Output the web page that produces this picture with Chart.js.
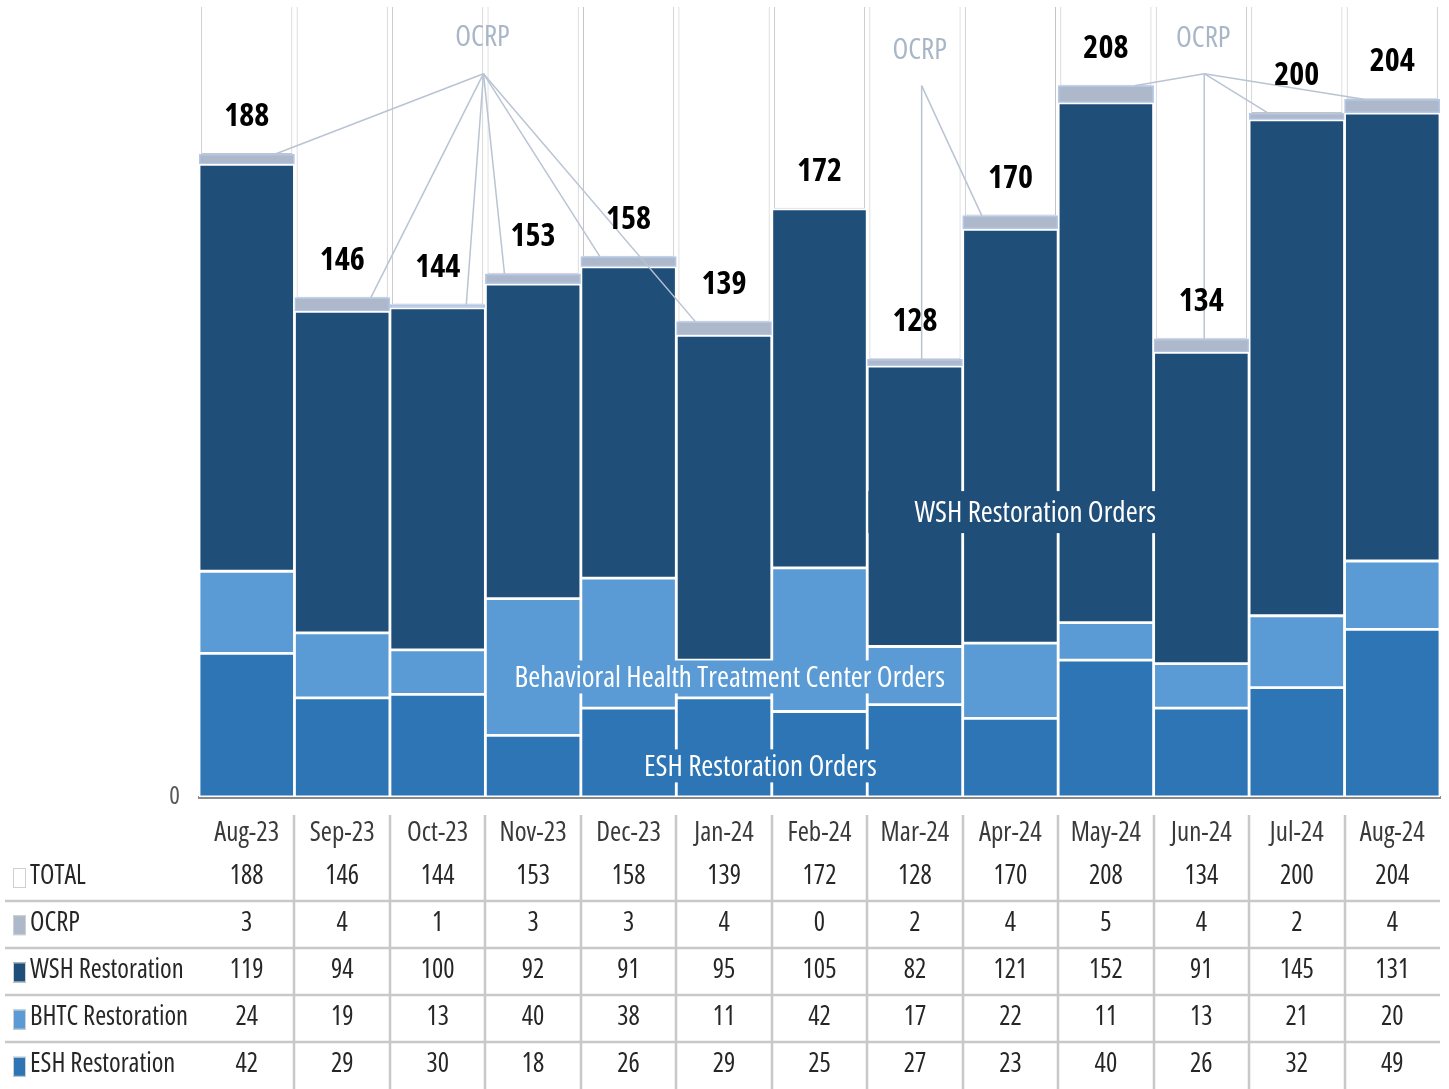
<!DOCTYPE html>
<html><head><meta charset="utf-8">
<script src="https://cdn.jsdelivr.net/npm/chart.js@4.4.1/dist/chart.umd.min.js"></script>
<style>html,body{margin:0;padding:0;background:#fff;}canvas{display:block;}</style>
</head><body>
<canvas id="c" width="1449" height="1089"></canvas>
<script>
// ---------- data ----------
const categories = ['Aug-23','Sep-23','Oct-23','Nov-23','Dec-23','Jan-24','Feb-24','Mar-24','Apr-24','May-24','Jun-24','Jul-24','Aug-24'];
const totalValues = [188,146,144,153,158,139,172,128,170,208,134,200,204];
const ocrpValues  = [3,4,1,3,3,4,0,2,4,5,4,2,4];
const wshValues   = [119,94,100,92,91,95,105,82,121,152,91,145,131];
const bhtcValues  = [24,19,13,40,38,11,42,17,22,11,13,21,20];
const eshValues   = [42,29,30,18,26,29,25,27,23,40,26,32,49];
const yTicks = [0];
const rowLabels = ['TOTAL','OCRP','WSH Restoration','BHTC Restoration','ESH Restoration'];
const ocrpGroups = [[0,1,2,3,4,5],[7,8],[9,10,11,12]];
const seriesLabelTexts = ['ESH Restoration Orders','Behavioral Health Treatment Center Orders','WSH Restoration Orders'];

// ---------- styles / layout ----------
const FAM = '"Open Sans","DejaVu Sans Condensed",sans-serif';
const f = (size, bold) => (bold ? 'bold condensed ' : 'normal condensed ') + size + 'px ' + FAM;
const TY = 2; // text vertical nudge
const COLORS = {total:'#ffffff', ocrp:'#adb9ca', wsh:'#1f4e79', bhtc:'#5b9bd5', esh:'#2e75b6'};
const rowKeyColors = [COLORS.total, COLORS.ocrp, COLORS.wsh, COLORS.bhtc, COLORS.esh];
// callout anchors expressed in scale units: [category index, value]
const ocrpCalloutPos = [
  {label:[2.47,222.5], origin:[2.48,211.5]},
  {label:[7.05,218.8], origin:[7.07,208.0]},
  {label:[10.02,222.3], origin:[10.03,211.5]}
];
const seriesCalloutPos = [
  {at:[5.38,9.1],  bg:COLORS.esh,  padL:5,  padR:4, h:33},
  {at:[5.06,35.1], bg:COLORS.bhtc, padL:7,  padR:7, h:33},
  {at:[8.26,83.3], bg:COLORS.wsh,  padL:46, padR:2, h:42}
];

const annotPlugin = {
  id:'annot',
  afterDatasetsDraw(chart){
    const ctx = chart.ctx, xs = chart.scales.x, ys = chart.scales.y;
    const metaOcrp = chart.getDatasetMeta(3);
    const metaTot = chart.getDatasetMeta(4);
    ctx.save();
    ctx.textAlign = 'center'; ctx.textBaseline = 'middle';
    // OCRP callouts
    ocrpGroups.forEach((members,g)=>{
      const p = ocrpCalloutPos[g];
      const ox = xs.getPixelForValue(p.origin[0]), oy = ys.getPixelForValue(p.origin[1]);
      ctx.strokeStyle = '#b9c4d3'; ctx.lineWidth = 1.5;
      members.forEach(i=>{
        const el = metaOcrp.data[i];
        const w = el.width, inset = w*0.2;
        const l = el.x - w/2 + inset, r = el.x + w/2 - inset;
        const ex = Math.min(Math.max(ox,l),r);
        ctx.beginPath(); ctx.moveTo(ox,oy); ctx.lineTo(ex, el.y); ctx.stroke();
      });
      ctx.font = f(29);
      ctx.fillStyle = '#a9b6c8';
      ctx.fillText('OCRP', xs.getPixelForValue(p.label[0]), ys.getPixelForValue(p.label[1]) + TY);
    });
    // total labels
    ctx.font = f(32, true);
    ctx.fillStyle = '#000';
    metaTot.data.forEach((el,i)=>{
      ctx.fillText(String(totalValues[i]), el.x, el.base - 37);
    });
    // series callouts
    ctx.font = f(29);
    seriesCalloutPos.forEach((p,k)=>{
      const cx = xs.getPixelForValue(p.at[0]), cy = ys.getPixelForValue(p.at[1]);
      const tw = ctx.measureText(seriesLabelTexts[k]).width;
      ctx.fillStyle = p.bg;
      ctx.fillRect(cx - tw/2 - p.padL, cy - p.h/2, tw + p.padL + p.padR, p.h);
      ctx.fillStyle = '#ffffff';
      ctx.fillText(seriesLabelTexts[k], cx, cy + TY);
    });
    ctx.restore();
  },
  afterDraw(chart){
    // data table
    const ctx = chart.ctx, xs = chart.scales.x, area = chart.chartArea;
    const rows = [totalValues, ocrpValues, wshValues, bhtcValues, eshValues];
    const firstRowY = area.bottom + 77, rowH = 47.2;
    const catW = (area.right - area.left) / categories.length;
    ctx.save();
    ctx.strokeStyle = '#c8c8c8'; ctx.lineWidth = 2.5;
    for (let i=0;i<categories.length-1;i++){
      const x = Math.round(xs.getPixelForValue(i) + catW/2);
      ctx.beginPath(); ctx.moveTo(x, area.bottom + 18); ctx.lineTo(x, chart.height); ctx.stroke();
    }
    for (let r=0;r<rows.length-1;r++){
      const y = Math.round(firstRowY + r*rowH + 26.5);
      ctx.beginPath(); ctx.moveTo(5, y); ctx.lineTo(area.right, y); ctx.stroke();
    }
    ctx.font = f(26.5);
    ctx.textBaseline = 'middle';
    rows.forEach((vals,r)=>{
      const y = firstRowY + r*rowH;
      ctx.fillStyle = rowKeyColors[r];
      ctx.fillRect(13, y - 6, 13, 20);
      ctx.strokeStyle = '#d0d0d0'; ctx.lineWidth = 1;
      ctx.strokeRect(13.5, y - 5.5, 12, 19);
      ctx.fillStyle = '#262626';
      ctx.textAlign = 'left';
      ctx.fillText(rowLabels[r], 30, y + TY);
      ctx.textAlign = 'center';
      vals.forEach((v,i)=> ctx.fillText(String(v), xs.getPixelForValue(i), y + TY));
    });
    ctx.restore();
  }
};

const common = {categoryPercentage:1, barPercentage:1, borderColor:'#ffffff', borderWidth:1.75, borderSkipped:false};
new Chart(document.getElementById('c'), {
  type:'bar',
  data:{
    labels: categories,
    datasets:[
      Object.assign({label:'ESH Restoration', data:eshValues, backgroundColor:COLORS.esh}, common),
      Object.assign({label:'BHTC Restoration', data:bhtcValues, backgroundColor:COLORS.bhtc}, common),
      Object.assign({label:'WSH Restoration', data:wshValues, backgroundColor:COLORS.wsh}, common),
      Object.assign({}, common, {label:'OCRP', data:ocrpValues, backgroundColor:COLORS.ocrp, borderColor:'#b4c7e7'}),
      Object.assign({}, common, {label:'TOTAL', data:totalValues, backgroundColor:COLORS.total, borderColor:'#c4c4c4', borderWidth:1, barPercentage:0.955})
    ]
  },
  options:{
    responsive:false, animation:false,
    layout:{padding:{top:7, right:9, left:0, bottom:0}},
    plugins:{legend:{display:false}, tooltip:{enabled:false}},
    scales:{
      x:{
        stacked:true, z:1,
        grid:{display:false, drawTicks:false},
        border:{display:true, color:'#8a8a8a', width:3},
        ticks:{font:{family:FAM, size:27, weight:'normal condensed'}, color:'#3a3a3a', padding:20, maxRotation:0, autoSkip:false},
        afterFit(s){ s.height = 292; s.paddingLeft = 0; s.paddingRight = 0; }
      },
      y:{
        stacked:true, min:0, max:231,
        grid:{display:false, drawTicks:false},
        border:{display:false},
        ticks:{font:{family:FAM, size:25, weight:'normal condensed'}, color:'#595959', padding:19},
        afterBuildTicks(s){ s.ticks = yTicks.map(v=>({value:v})); },
        afterFit(s){ s.width = 199; s.paddingTop = 0; s.paddingBottom = 0; }
      }
    }
  },
  plugins:[annotPlugin]
});
</script>
</body></html>
